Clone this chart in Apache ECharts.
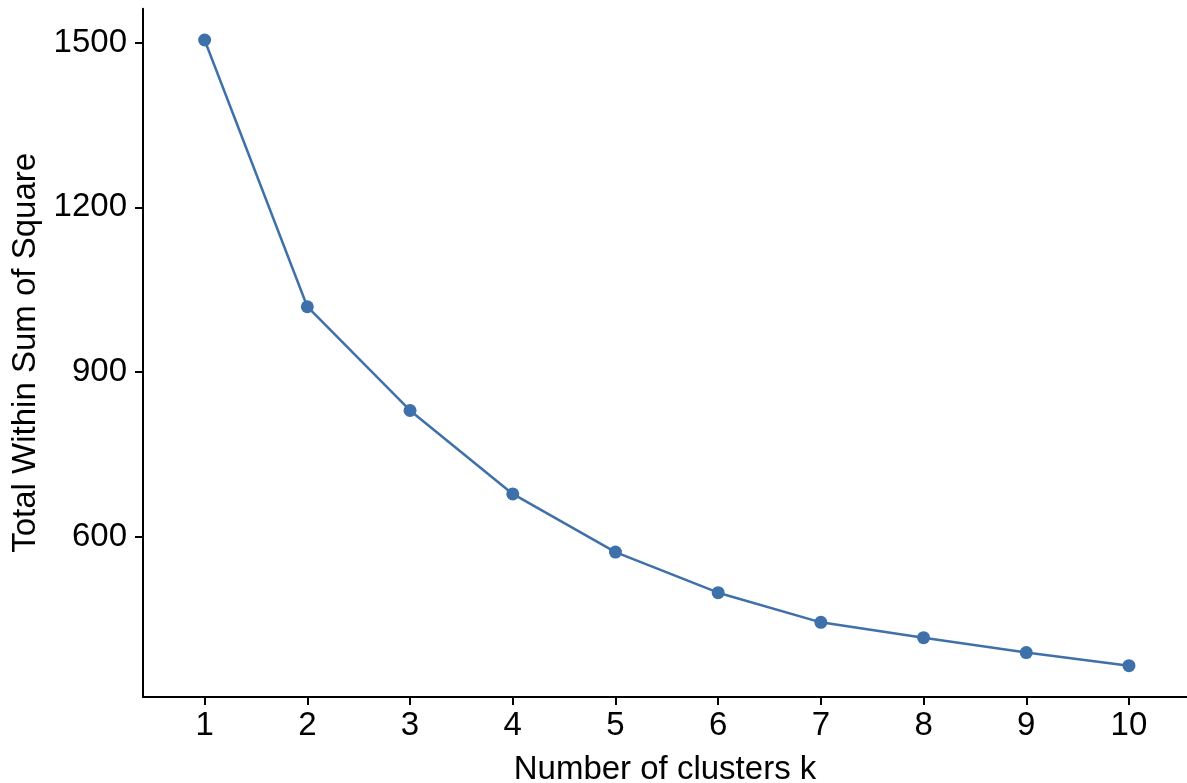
<!DOCTYPE html>
<html>
<head>
<meta charset="utf-8">
<script src="https://cdn.jsdelivr.net/npm/echarts@6/dist/echarts.min.js"></script>
<style>
html,body{margin:0;padding:0;background:#fff;}
#chart{width:1187px;height:783px;}
</style>
</head>
<body>
<div id="chart"></div>
<script>
const clusters = [1, 2, 3, 4, 5, 6, 7, 8, 9, 10];
const wss = [1505, 1019, 830, 678, 572, 498, 444, 416, 389, 365];
const yTicks = [600, 900, 1200, 1500];
const xTitle = 'Number of clusters k';
const yTitle = 'Total Within Sum of Square';

const color = '#3E70AA';
const font = 'Liberation Sans, Arial, Helvetica, sans-serif';
const chart = echarts.init(document.getElementById('chart'), null, {renderer: 'canvas'});
chart.setOption({
  animation: false,
  backgroundColor: '#ffffff',
  grid: {left: 143, right: 0, top: 8.7, bottom: 86, containLabel: false, outerBoundsMode: 'none'},
  xAxis: {
    type: 'value', min: 0.4, max: 10.565,
    name: xTitle, nameLocation: 'middle', nameGap: 56,
    nameTextStyle: {fontFamily: font, fontSize: 33, color: '#000'},
    axisLine: {onZero: false, lineStyle: {color: '#000', width: 2}},
    axisTick: {show: true, length: 8, lineStyle: {color: '#000', width: 2}, customValues: clusters},
    axisLabel: {fontFamily: font, fontSize: 33, color: '#000', margin: 12, customValues: clusters,
      formatter: v => String(v)},
    splitLine: {show: false}
  },
  yAxis: {
    type: 'value', min: 308, max: 1562,
    name: yTitle, nameLocation: 'middle', nameGap: 92, nameRotate: 90,
    nameTextStyle: {fontFamily: font, fontSize: 33, color: '#000'},
    axisLine: {show: true, onZero: false, lineStyle: {color: '#000', width: 2}},
    axisTick: {show: true, length: 8, lineStyle: {color: '#000', width: 2}, customValues: yTicks},
    axisLabel: {fontFamily: font, fontSize: 33, color: '#000', margin: 16, customValues: yTicks,
      formatter: v => String(v)},
    splitLine: {show: false}
  },
  series: [{
    type: 'line',
    data: clusters.map((k, i) => [k, wss[i]]),
    symbol: 'circle', symbolSize: 13,
    lineStyle: {color: color, width: 2.5},
    itemStyle: {color: color},
    clip: false
  }]
});
</script>
</body>
</html>
